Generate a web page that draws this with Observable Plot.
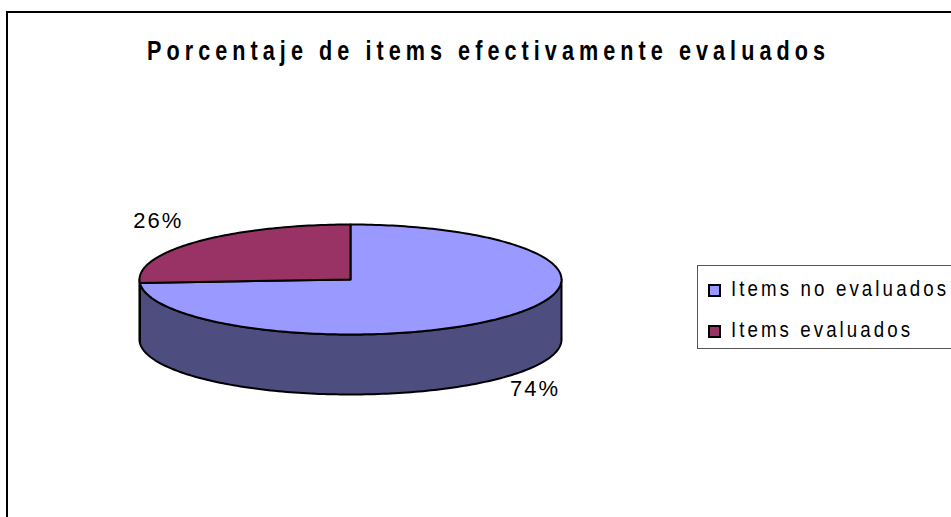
<!DOCTYPE html>
<html><head><meta charset="utf-8">
<script src="https://cdn.jsdelivr.net/npm/d3@7"></script>
<script src="https://cdn.jsdelivr.net/npm/@observablehq/plot@0.6"></script>
<style>
body{margin:0;width:951px;height:517px;overflow:hidden;background:#fff;font-family:"Liberation Sans",Arial,sans-serif;}
#wrap{position:relative;width:951px;height:517px;overflow:hidden;}
#frame{position:absolute;left:6px;top:11px;width:1000px;height:600px;border:2px solid #000;box-sizing:border-box;}
#chart{position:absolute;left:0;top:0;}
.fit{position:absolute;white-space:nowrap;transform-origin:0 50%;line-height:1;color:#000;}
#legend{position:absolute;left:697px;top:265px;width:300px;height:84px;border:1px solid #555;box-sizing:border-box;}
.sw{position:absolute;width:9px;height:9px;border:2px solid #000;}
</style></head>
<body>
<div id="wrap">
  <div id="frame"></div>
  <div id="chart"></div>
  <div id="legend"></div>
</div>
<script>
// ---- data ----
const title = "Porcentaje de items efectivamente evaluados";
const categories = ["Items no evaluados", "Items evaluados"];
const values = [74, 26];
const valueLabels = ["74%", "26%"];
const topColors = ["#9999FF", "#993366"];
const sideColors = ["#4D4D80", "#4D1933"];

// ---- 3D pie geometry (layout) ----
const cx = 350, cy = 279, rx = 211, ry = 55, depth = 60;
const arcs = d3.pie().sort(null).value(d => d)(values);
const px = a => cx + rx * Math.sin(a);
const py = a => cy - ry * Math.cos(a);

function arcPoints(a0, a1, dy, key) {
  const n = Math.max(2, Math.ceil(Math.abs(a1 - a0) / 0.02));
  const pts = [];
  for (let i = 0; i <= n; i++) {
    const a = a0 + (a1 - a0) * i / n;
    pts.push({x: px(a), y: py(a) + dy, key});
  }
  return pts;
}

const sides = [];
const tops = [];
const labelRows = [];
arcs.forEach((arc, i) => {
  const s0 = Math.max(arc.startAngle, Math.PI / 2);
  const s1 = Math.min(arc.endAngle, 3 * Math.PI / 2);
  if (s1 > s0) {
    const key = "side" + i;
    const upper = arcPoints(s0, s1, 0, key);
    const lower = arcPoints(s1, s0, depth, key);
    const poly = upper.concat(lower);
    poly.push({...upper[0]});
    poly.forEach(p => p.color = sideColors[i]);
    sides.push(...poly);
  }
  const key = "top" + i;
  const poly = [{x: cx, y: cy, key}].concat(arcPoints(arc.startAngle, arc.endAngle, 0, key));
  poly.push({x: cx, y: cy, key});
  poly.forEach(p => p.color = topColors[i]);
  tops.push(...poly);
  const mid = (arc.startAngle + arc.endAngle) / 2;
  const front = Math.cos(mid) < 0;
  labelRows.push({
    x: cx + rx * (front ? 1.2 : 1.25) * Math.sin(mid),
    y: cy - ry * 1.55 * Math.cos(mid) + (front ? depth * 0.85 : 0),
    label: valueLabels[i]
  });
});

const plot = Plot.plot({
  width: 951, height: 517, margin: 0,
  x: {domain: [0, 951], range: [0, 951], axis: null},
  y: {domain: [0, 517], range: [0, 517], axis: null},
  color: {type: "identity"},
  style: {background: "transparent", fontFamily: "'Liberation Sans', Arial, sans-serif"},
  marks: [
    Plot.line(sides, {x: "x", y: "y", z: "key", fill: "color", stroke: "#000", strokeWidth: 2, strokeLinejoin: "round"}),
    Plot.line(tops, {x: "x", y: "y", z: "key", fill: "color", stroke: "#000", strokeWidth: 2, strokeLinejoin: "round"}),
    Plot.text(labelRows, {x: "x", y: "y", text: "label", fontSize: 22, fill: "#000", textAnchor: "middle", lineAnchor: "middle"})
  ]
});
document.getElementById("chart").appendChild(plot);
plot.querySelectorAll("text").forEach(t => t.style.letterSpacing = "2px");

// ---- title & legend (HTML) ----
const wrap = document.getElementById("wrap");
const fits = [];
function addFit(parent, text, left, top, size, weight, targetW, scale) {
  const s = document.createElement("span");
  s.className = "fit";
  s.textContent = text;
  s.style.left = left + "px";
  s.style.top = top + "px";
  s.style.fontSize = size + "px";
  s.style.fontWeight = weight;
  parent.appendChild(s);
  fits.push({s, text, targetW, scale});
}
addFit(wrap, title, 147, 38, 27, "bold", 678, 0.8);

const legend = document.getElementById("legend");
const rowsY = [289, 330];
categories.forEach((c, i) => {
  const sw = document.createElement("div");
  sw.className = "sw";
  sw.style.background = topColors[i];
  sw.style.left = (707 - 697) + "px";
  sw.style.top = (rowsY[i] - 265 - 6) + "px";
  legend.appendChild(sw);
});
addFit(wrap, categories[0], 731, 278, 22, "normal", 215, 0.85);
addFit(wrap, categories[1], 731, 319, 22, "normal", 179, 0.85);

function fitAll() {
  fits.forEach(({s, text, targetW, scale}) => {
    s.style.letterSpacing = "0px";
    s.style.transform = "none";
    const w0 = s.getBoundingClientRect().width;
    const n = text.length - 1;
    const ls = Math.max(0, (targetW / scale - w0) / n);
    s.style.letterSpacing = ls + "px";
    s.style.transform = "scaleX(" + scale + ")";
  });
}
fitAll();
if (document.fonts && document.fonts.ready) document.fonts.ready.then(fitAll);
</script>
</body></html>
